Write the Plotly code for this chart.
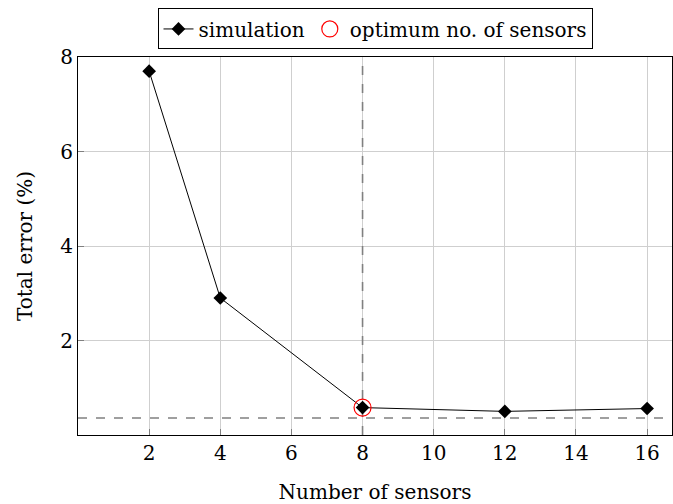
import plotly.graph_objects as go

# Simulation results: total error vs. number of sensors
sensors = [2, 4, 8, 12, 16]
total_error = [7.7, 2.9, 0.58, 0.50, 0.56]

# Chosen optimum
optimum_sensors = [8]
optimum_error = [0.58]

# Reference levels drawn as dashed guides
error_floor = 0.36
optimum_x = 8

x_ticks = [2, 4, 6, 8, 10, 12, 14, 16]
y_ticks = [2, 4, 6, 8]

x_range = [0, 16.7]
y_range = [0, 8]

FONT = "DejaVu Serif, Liberation Serif, serif"
FS = 20

fig = go.Figure()

guide = dict(color="#808080", width=1.6, dash="dash")
fig.add_trace(go.Scatter(x=x_range, y=[error_floor, error_floor], mode="lines",
                         line=guide, showlegend=False, hoverinfo="skip"))
fig.add_trace(go.Scatter(x=[optimum_x, optimum_x], y=y_range, mode="lines",
                         line=guide, showlegend=False, hoverinfo="skip"))

fig.add_trace(go.Scatter(
    x=sensors, y=total_error, mode="lines+markers", name="simulation",
    line=dict(color="black", width=1),
    marker=dict(symbol="diamond", size=10.5, color="black"),
))
fig.add_trace(go.Scatter(
    x=optimum_sensors, y=optimum_error, mode="markers",
    name="optimum no. of sensors",
    marker=dict(symbol="circle-open", size=17, color="red",
                line=dict(color="red", width=1.2)),
))

axis_common = dict(
    showgrid=True, gridcolor="#cfcfcf", gridwidth=1,
    showline=True, linecolor="black", linewidth=1.2, mirror=True,
    ticks="inside", ticklen=6, tickcolor="#808080", tickwidth=1,
    zeroline=False,
    tickfont=dict(family=FONT, size=FS, color="black"),
)

fig.update_xaxes(
    range=x_range, tickvals=x_ticks,
    title=dict(text="Number of sensors", font=dict(family=FONT, size=FS, color="black"),
               standoff=20),
    **axis_common,
)
fig.update_yaxes(
    range=y_range, tickvals=y_ticks,
    title=dict(text="Total error (%)", font=dict(family=FONT, size=FS, color="black"),
               standoff=22),
    **axis_common,
)

fig.update_layout(
    width=673, height=504,
    margin=dict(l=78, r=1, t=57, b=69),
    plot_bgcolor="white", paper_bgcolor="white",
    font=dict(family=FONT, size=FS, color="black"),
    showlegend=True,
    legend=dict(
        orientation="h", x=0.5, xanchor="center", y=1.02, yanchor="bottom",
        bordercolor="black", borderwidth=1, bgcolor="white",
        font=dict(family=FONT, size=FS, color="black"),
        itemsizing="trace",
    ),
)

fig.write_html("out.html")
